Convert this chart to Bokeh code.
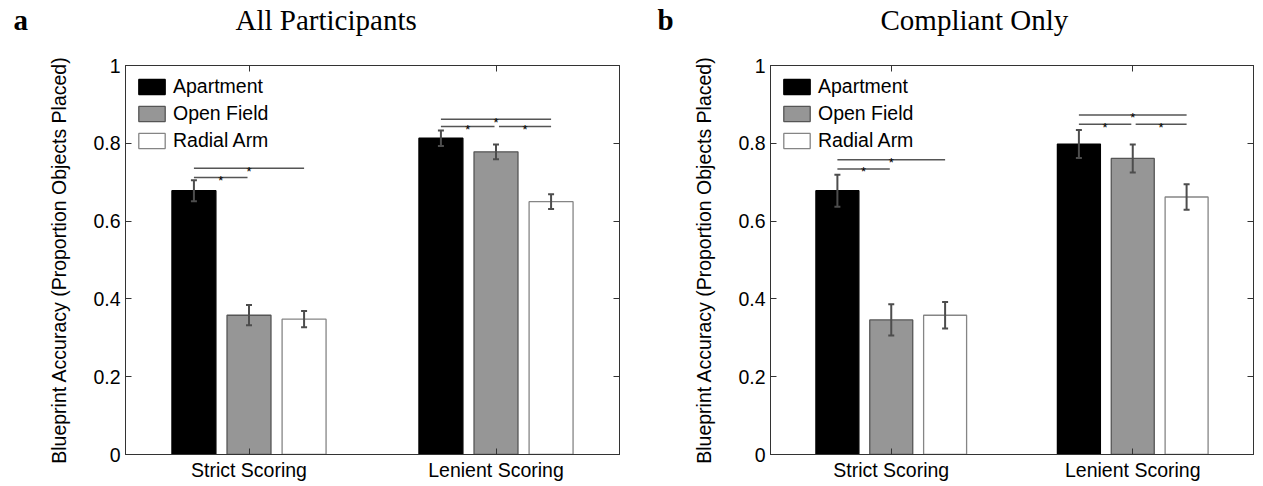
from bokeh.plotting import figure
from bokeh.models import (ColumnDataSource, Whisker, TeeHead, FixedTicker, CustomJSTickFormatter,
                          LinearAxis, Legend, LegendItem, Range1d)
from bokeh.layouts import row, column
from bokeh.embed import file_html
from bokeh.resources import INLINE
from bokeh.core.properties import value

# ---------------- data ----------------
categories = ["Strict Scoring", "Lenient Scoring"]
environments = ["Apartment", "Open Field", "Radial Arm"]
y_ticks = [0, 0.2, 0.4, 0.6, 0.8, 1.0]
panel_titles = ["All Participants", "Compliant Only"]
panel_letters = ["a", "b"]

# All participants
all_apartment = [0.678, 0.813]
all_open_field = [0.358, 0.778]
all_radial_arm = [0.348, 0.650]
all_apartment_err = [0.027, 0.020]
all_open_field_err = [0.026, 0.019]
all_radial_arm_err = [0.021, 0.019]

# Compliant only
compliant_apartment = [0.678, 0.798]
compliant_open_field = [0.346, 0.761]
compliant_radial_arm = [0.358, 0.662]
compliant_apartment_err = [0.041, 0.036]
compliant_open_field_err = [0.040, 0.036]
compliant_radial_arm_err = [0.034, 0.033]

# significance brackets: group index (1-based), from bar, to bar, height
sig_group = [1, 1, 2, 2, 2]
sig_from = [0, 0, 0, 0, 1]
sig_to = [2, 1, 2, 1, 2]
all_sig_y = [0.736, 0.712, 0.862, 0.843, 0.843]
compliant_sig_y = [0.758, 0.734, 0.873, 0.849, 0.849]

# ---------------- style ----------------
FILLS = ["black", "#969696", "white"]
EDGES = ["black", "#555555", "#858585"]
OFFSETS = [-0.223, 0.0, 0.223]
BAR_W = 0.178
AX = "#333333"
SANS = "Liberation Sans"
SERIF = "Liberation Serif"
FS = "19.5px"
HEAD_H = 46
MAIN_H = 437


def make_header(letter, title, width, letter_x, title_x):
    h = figure(width=width, height=HEAD_H, output_backend="svg", toolbar_location=None,
               x_range=Range1d(0, width), y_range=Range1d(0, HEAD_H),
               x_axis_location=None, y_axis_location=None,
               min_border_left=0, min_border_right=0, min_border_top=0, min_border_bottom=0)
    h.grid.visible = False
    h.outline_line_color = None
    h.text(x=[letter_x], y=[27], text=[letter], text_font=value(SERIF), text_font_style="bold",
           text_font_size="29px", text_baseline="middle", text_color="black")
    h.text(x=[title_x], y=[27], text=[title], text_font=value(SERIF), text_font_style="normal",
           text_font_size="29px", text_baseline="middle", text_color="black")
    return h


def make_panel(means, errs, sig_y, width, b_left, b_right):
    p = figure(width=width, height=MAIN_H, output_backend="svg", toolbar_location=None,
               x_range=Range1d(0.5, 2.5), y_range=Range1d(0, 1),
               min_border_left=b_left, min_border_right=b_right,
               min_border_top=19, min_border_bottom=28)
    p.grid.visible = False
    p.outline_line_color = AX
    p.outline_line_width = 1
    p.background_fill_color = "white"
    p.border_fill_color = "white"

    group_x = [i + 1 for i in range(len(categories))]
    items = []
    for k, env in enumerate(environments):
        xs = [g + OFFSETS[k] for g in group_x]
        src = ColumnDataSource(dict(x=xs, top=means[k],
                                    upper=[m + e for m, e in zip(means[k], errs[k])],
                                    lower=[m - e for m, e in zip(means[k], errs[k])]))
        r = p.vbar(x="x", top="top", bottom=0, width=BAR_W, source=src,
                   fill_color=FILLS[k], line_color=EDGES[k], line_width=1.3)
        items.append(LegendItem(label=env, renderers=[r]))
        w = Whisker(base="x", upper="upper", lower="lower", source=src, level="overlay",
                    line_color="#4d4d4d", line_width=2,
                    upper_head=TeeHead(size=6, line_color="#4d4d4d", line_width=2),
                    lower_head=TeeHead(size=6, line_color="#4d4d4d", line_width=2))
        p.add_layout(w)

    # significance lines
    x0s, x1s, mids = [], [], []
    for g, a, b in zip(sig_group, sig_from, sig_to):
        xa = g + OFFSETS[a] + (0.012 if a == 1 else 0.0)
        xb = g + OFFSETS[b] - (0.006 if b == 1 else 0.0)
        x0s.append(xa)
        x1s.append(xb)
        mids.append((xa + xb) / 2)
    ssrc = ColumnDataSource(dict(x0=x0s, x1=x1s, y=sig_y, xm=mids, t=["*"] * len(mids)))
    p.segment(x0="x0", y0="y", x1="x1", y1="y", source=ssrc, line_color="#555555", line_width=1.5)
    p.text(x="xm", y="y", text="t", source=ssrc, text_font=value(SANS), text_font_size="13px",
           text_align="center", text_baseline="alphabetic", y_offset=3, text_color="black")

    # axes
    xa_ = p.xaxis[0]
    xa_.ticker = FixedTicker(ticks=group_x)
    xa_.major_label_overrides = {g: c for g, c in zip(group_x, categories)}
    ya_ = p.yaxis[0]
    ya_.ticker = FixedTicker(ticks=y_ticks)
    ya_.formatter = CustomJSTickFormatter(code="return String(Math.round(tick*10)/10);")
    ya_.axis_label = "Blueprint Accuracy (Proportion Objects Placed)"
    ya_.axis_label_text_font = SANS
    ya_.axis_label_text_font_style = "normal"
    ya_.axis_label_text_font_size = FS
    ya_.axis_label_text_color = "black"
    ya_.axis_label_standoff = 20
    for ax in (xa_, ya_):
        ax.axis_line_color = AX
        ax.major_tick_line_color = AX
        ax.minor_tick_line_color = None
        ax.major_tick_in = 6
        ax.major_tick_out = 0
        ax.major_label_text_font = SANS
        ax.major_label_text_font_size = FS
        ax.major_label_text_color = "black"
    xa_.major_label_standoff = 4
    ya_.major_label_standoff = 5

    # mirrored ticks on top and right
    top = LinearAxis(ticker=FixedTicker(ticks=group_x),
                     formatter=CustomJSTickFormatter(code="return '';"),
                     axis_line_color=AX, major_tick_line_color=AX, minor_tick_line_color=None,
                     major_tick_in=6, major_tick_out=0, major_label_standoff=0)
    right = LinearAxis(ticker=FixedTicker(ticks=y_ticks),
                       formatter=CustomJSTickFormatter(code="return '';"),
                       axis_line_color=AX, major_tick_line_color=AX, minor_tick_line_color=None,
                       major_tick_in=6, major_tick_out=0, major_label_standoff=0)
    p.add_layout(top, "above")
    p.add_layout(right, "right")

    legend = Legend(items=items, location="top_left", border_line_color=None,
                    background_fill_alpha=0, glyph_width=33, glyph_height=19,
                    label_height=19, label_standoff=5, spacing=4, padding=0, margin=10,
                    label_text_font=SANS, label_text_font_size=FS, label_text_color="black")
    p.add_layout(legend)
    return p


h1 = make_header(panel_letters[0], panel_titles[0], 640, 13, 235)
h2 = make_header(panel_letters[1], panel_titles[1], 615, 17, 240)
p1 = make_panel([all_apartment, all_open_field, all_radial_arm],
                [all_apartment_err, all_open_field_err, all_radial_arm_err],
                all_sig_y, 640, 125, 21)
p2 = make_panel([compliant_apartment, compliant_open_field, compliant_radial_arm],
                [compliant_apartment_err, compliant_open_field_err, compliant_radial_arm_err],
                compliant_sig_y, 615, 130, 2)

layout = column(row(h1, h2), row(p1, p2))
open("out.html", "w").write(file_html(layout, INLINE))
